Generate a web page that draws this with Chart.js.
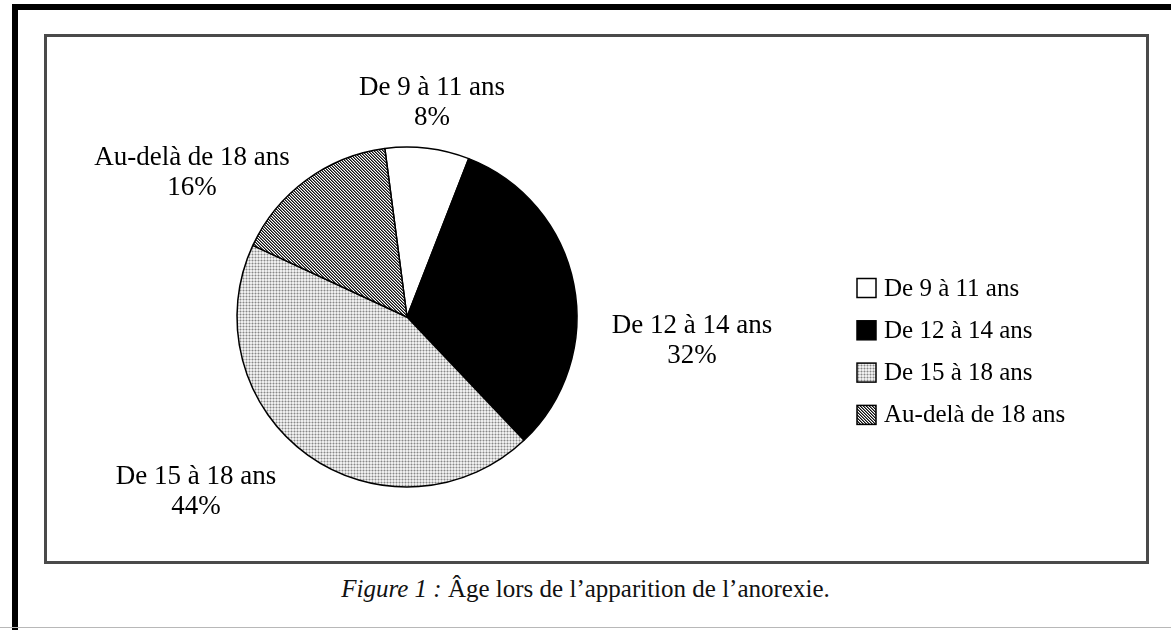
<!DOCTYPE html>
<html>
<head>
<meta charset="utf-8">
<script src="https://cdn.jsdelivr.net/npm/chart.js@4.4.1/dist/chart.umd.min.js"></script>
<style>
  html, body { margin: 0; padding: 0; background: #fff; }
  body { width: 1171px; height: 630px; position: relative; overflow: hidden; }
  .frame { position: absolute; left: 12px; top: 4px; right: 0; bottom: 0;
           border-left: 6px solid #000; border-top: 6px solid #000; }
  .bottomLine { position: absolute; left: 0; right: 0; top: 627px; height: 1px; background: #b8b8b8; }
  .box { position: absolute; left: 44px; top: 34px; width: 1099px; height: 524px;
         border: 3px solid #4a4a4a; }
  #pieCha { position: absolute; left: 47px; top: 37px; }
  .caption { position: absolute; left: 0; width: 1171px; top: 575px; text-align: center;
             font-family: "Liberation Serif", "Times New Roman", serif; font-size: 25px; color: #111; }
  .caption i { font-style: italic; }
</style>
</head>
<body>
<div class="frame"></div>
<div class="bottomLine"></div>
<div class="box"></div>
<canvas id="pieCha" width="1099" height="524"></canvas>
<div class="caption"><i>Figure 1 :</i> Âge lors de l’apparition de l’anorexie.</div>

<script>
const categories = ['De 9 à 11 ans', 'De 12 à 14 ans', 'De 15 à 18 ans', 'Au-delà de 18 ans'];
const values = [8, 32, 44, 16];
const percentLabels = ['8%', '32%', '44%', '16%'];

// label block centre, offset from pie centre (px)
const labelOffsets = [[25, -214], [285, 24], [-211, 175], [-215, -144]];

const ctx = document.getElementById('pieCha').getContext('2d');

function makePattern(size, draw) {
    const tile = document.createElement('canvas');
    tile.width = size;
    tile.height = size;
    const g = tile.getContext('2d');
    draw(g);
    return ctx.createPattern(tile, 'repeat');
}

function px(g, x, y, c) {
    g.fillStyle = c;
    g.fillRect(x, y, 1, 1);
}

const dots = makePattern(3, g => {
    g.fillStyle = '#eeeeee';
    g.fillRect(0, 0, 3, 3);
    px(g, 1, 1, '#888');
    px(g, 0, 1, '#c4c4c4'); px(g, 2, 1, '#c4c4c4');
    px(g, 1, 0, '#c4c4c4'); px(g, 1, 2, '#c4c4c4');
});

const hatch = makePattern(3, g => {
    g.fillStyle = '#fff';
    g.fillRect(0, 0, 3, 3);
    for (let i = 0; i < 3; i++) {
        px(g, i, i, '#111');
        px(g, (i + 1) % 3, i, '#777');
    }
});

const fills = ['#ffffff', '#000000', dots, hatch];

const fontFam = '"Liberation Serif", "Times New Roman", serif';

const outerLabels = {
    id: 'outerLabels',
    afterDraw(chart) {
        const c = chart.ctx;
        const arcs = chart.getDatasetMeta(0).data;
        c.save();
        c.fillStyle = '#000';
        c.font = '27px ' + fontFam;
        c.textAlign = 'center';
        c.textBaseline = 'middle';
        arcs.forEach((arc, i) => {
            const x = arc.x + labelOffsets[i][0];
            const y = arc.y + labelOffsets[i][1];
            c.fillText(categories[i], x, y - 15);
            c.fillText(percentLabels[i], x, y + 15);
        });
        c.restore();
    }
};

const sideLegend = {
    id: 'sideLegend',
    afterDraw(chart) {
        const c = chart.ctx;
        const ds = chart.data.datasets[0];
        const left = 810, top = 251, step = 42.3, box = 19;
        c.save();
        c.font = '25px ' + fontFam;
        c.textBaseline = 'middle';
        c.textAlign = 'left';
        chart.data.labels.forEach((lab, i) => {
            const y = top + i * step;
            c.fillStyle = ds.backgroundColor[i];
            c.fillRect(left, y - box / 2, box, box);
            c.lineWidth = 1.5;
            c.strokeStyle = '#000';
            c.strokeRect(left, y - box / 2, box, box);
            c.fillStyle = '#000';
            c.fillText(lab, left + box + 8, y + 1);
        });
        c.restore();
    }
};

new Chart(ctx, {
    type: 'pie',
    data: {
        labels: categories,
        datasets: [{
            data: values,
            backgroundColor: fills,
            borderColor: '#000',
            borderWidth: 1.5,
            radius: 170
        }]
    },
    options: {
        responsive: false,
        animation: false,
        rotation: -7.5,
        layout: { padding: { left: 190, right: 569, top: 110, bottom: 74 } },
        plugins: {
            legend: { display: false },
            tooltip: { enabled: false },
            title: { display: false }
        }
    },
    plugins: [outerLabels, sideLegend]
});
</script>
</body>
</html>
